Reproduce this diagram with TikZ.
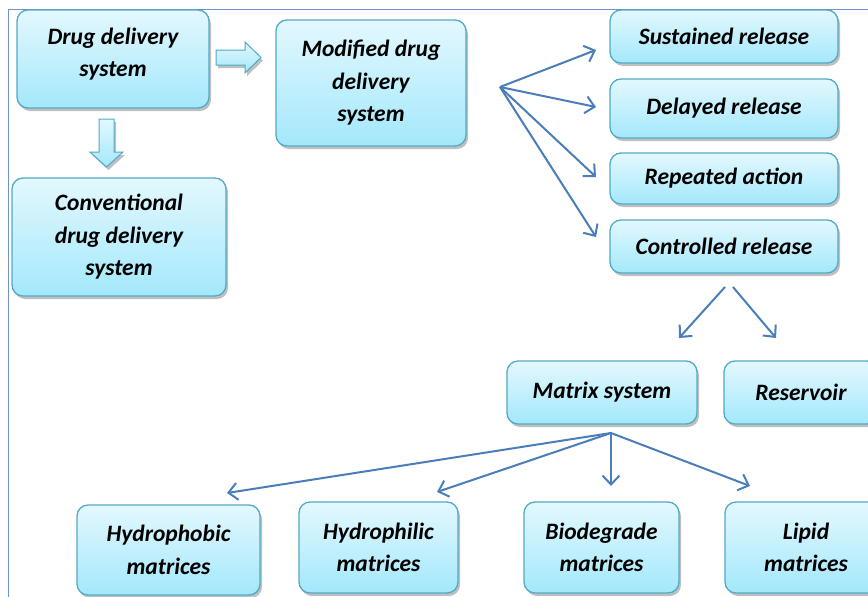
\documentclass[tikz,border=0pt]{standalone}
\usepackage{fontspec}
\setmainfont{Carlito}
\usetikzlibrary{arrows.meta,shadows}
\definecolor{boxborder}{HTML}{52AAC6}
\definecolor{boxtop}{HTML}{E3F8FE}
\definecolor{boxbot}{HTML}{A3E8FB}
\definecolor{arrowblue}{HTML}{4A7EBB}
\definecolor{framecol}{HTML}{6F93C8}
\tikzset{
  box/.style={draw=boxborder, line width=1.3pt, rounded corners=11pt,
    top color=boxtop, bottom color=boxbot, inner sep=0pt, align=center,
    font=\fontsize{23.5}{32.5}\selectfont\bfseries\itshape,
    drop shadow={shadow xshift=2pt, shadow yshift=-3pt, fill=black!50, opacity=0.5}},
  blockarrow/.style={draw=boxborder, line width=1pt, top color=boxtop, bottom color=boxbot,
    drop shadow={shadow xshift=2pt, shadow yshift=-3pt, fill=black!50, opacity=0.5}},
  conn/.style={draw=arrowblue, line width=2pt, -{Straight Barb[length=9pt,width=17pt,line width=2pt]}},
}
\begin{document}
\begin{tikzpicture}[x=1pt,y=-1pt]
\useasboundingbox (0,0) rectangle (868,597);
\clip (0,0) rectangle (868,597);
\fill[white] (0,0) rectangle (868,597);
\draw[framecol, line width=1pt] (8,597) -- (8,9) -- (868,9);

% boxes
\node[box, minimum width=192pt, minimum height=98pt] (dds) at (113,59) {\raisebox{5pt}[\height][\depth]{\parbox{180pt}{\centering Drug delivery\\system}}};
\node[box, minimum width=190pt, minimum height=126pt] (mdds) at (371,83) {Modified drug\\delivery\\system};
\node[box, minimum width=214pt, minimum height=118pt] (cdds) at (119,237) {Conventional\\drug delivery\\system};
\node[box, minimum width=228pt, minimum height=53pt] (sr) at (724,36.5) {Sustained release};
\node[box, minimum width=228pt, minimum height=59pt] (dr) at (724,108.5) {Delayed release};
\node[box, minimum width=228pt, minimum height=51pt] (ra) at (724,178.5) {Repeated action};
\node[box, minimum width=228pt, minimum height=53pt] (cr) at (724,246.5) {Controlled release};
\node[box, minimum width=190pt, minimum height=63pt] (ms) at (602,392.5) {Matrix system};
\node[box, minimum width=154pt, minimum height=63pt] (res) at (801,392.5) {Reservoir};
\node[box, minimum width=183pt, minimum height=90pt] (hpb) at (168.5,550) {Hydrophobic\\matrices};
\node[box, minimum width=159pt, minimum height=91pt] (hpl) at (378.5,547.5) {Hydrophilic\\matrices};
\node[box, minimum width=155pt, minimum height=91pt] (bio) at (601.5,547.5) {Biodegrade\\matrices};
\node[box, minimum width=162pt, minimum height=91pt] (lip) at (806,547.5) {Lipid\\matrices};

% block arrows
\path[blockarrow] (216,50) -- (245,50) -- (245,42) -- (261,57.5) -- (245,73) -- (245,65) -- (216,65) -- cycle;
\path[blockarrow] (99,119) -- (114,119) -- (114,152) -- (123,152) -- (106.5,167) -- (90,152) -- (99,152) -- cycle;

% connector coordinates
\coordinate (m0) at (500,87);
\coordinate (tsr) at (596,50);
\coordinate (tdr) at (596,107);
\coordinate (tra) at (596,177);
\coordinate (tcr) at (596,237);
\coordinate (c1) at (725,287);
\coordinate (c2) at (733,287);
\coordinate (tms) at (679,338);
\coordinate (tres) at (776,338);
\coordinate (x0) at (611,433);
\coordinate (thpb) at (227,493);
\coordinate (thpl) at (437,492);
\coordinate (tbio) at (611,486);
\coordinate (tlip) at (750,486);

\draw[conn] (m0) -- (tsr);
\draw[conn] (m0) -- (tdr);
\draw[conn] (m0) -- (tra);
\draw[conn] (m0) -- (tcr);
\draw[conn] (c1) -- (tms);
\draw[conn] (c2) -- (tres);
\draw[conn] (x0) -- (thpb);
\draw[conn] (x0) -- (thpl);
\draw[conn] (x0) -- (tbio);
\draw[conn] (x0) -- (tlip);
\end{tikzpicture}
\end{document}
